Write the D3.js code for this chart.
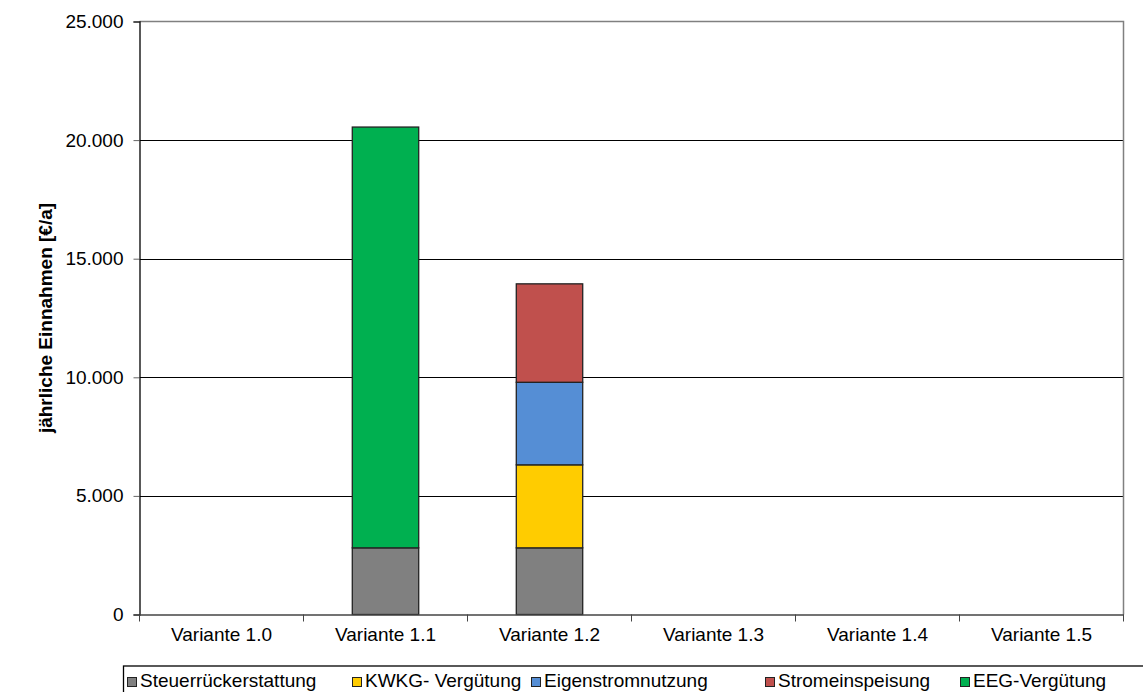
<!DOCTYPE html>
<html>
<head>
<meta charset="utf-8">
<script src="https://cdn.jsdelivr.net/npm/d3@7/dist/d3.min.js"></script>
<style>
  body { margin: 0; background: #fff; }
  svg text { font-family: "Liberation Sans", Arial, sans-serif; fill: #000; }
</style>
</head>
<body>
<svg id="chart" width="1143" height="692"></svg>
<script>
// values
var categories = ["Variante 1.0", "Variante 1.1", "Variante 1.2", "Variante 1.3", "Variante 1.4", "Variante 1.5"]
var seriesNames = ["Steuerrückerstattung", "KWKG- Vergütung", "Eigenstromnutzung", "Stromeinspeisung", "EEG-Vergütung"]
var steuer = [0, 2810, 2810, 0, 0, 0]
var kwkg   = [0, 0, 3500, 0, 0, 0]
var eigen  = [0, 0, 3480, 0, 0, 0]
var strom  = [0, 0, 4150, 0, 0, 0]
var eeg    = [0, 17740, 0, 0, 0, 0]
var yTicks = [0, 5000, 10000, 15000, 20000, 25000]
var colors = ["#808080", "#FFCC00", "#558ED5", "#C0504D", "#00B050"]
var legendX = [127, 352, 531, 765, 960]

var seriesValues = [steuer, kwkg, eigen, strom, eeg]

function draw()
{
    var svg = d3.select("#chart")
    var mLeft = 139.5, mRight = 1123.5, mTop = 21.5, mBottom = 614.5
    var fs = "19px"

    var x = d3.scaleBand().domain(categories).range([mLeft, mRight]).paddingInner(0).paddingOuter(0)
    var y = d3.scaleLinear().domain([0, 25000]).range([mBottom, mTop])

    // rows for stacking
    var rows = categories.map(function(c, i){
        var r = {cat: c}
        seriesNames.forEach(function(s, k){ r[s] = seriesValues[k][i] })
        return r
    })
    var stack = d3.stack().keys(seriesNames)(rows)

    // grid lines
    svg.append("g")
        .selectAll("line")
        .data(yTicks.slice(1, -1))
        .enter()
            .append("line")
            .attr("x1", mLeft).attr("x2", mRight)
            .attr("y1", function(d){ return Math.round(y(d)) + 0.5 })
            .attr("y2", function(d){ return Math.round(y(d)) + 0.5 })
            .attr("stroke", "#000")
            .attr("stroke-width", 1)

    // plot frame (top + right grey)
    svg.append("path")
        .attr("d", "M" + mLeft + "," + mTop + "H" + mRight + "V" + mBottom)
        .attr("fill", "none")
        .attr("stroke", "#808080")
        .attr("stroke-width", 1.5)

    // bars
    var bw = x.bandwidth() * 0.405
    svg.append("g")
        .selectAll("g")
        .data(stack)
        .enter()
            .append("g")
            .attr("fill", function(d, i){ return colors[i] })
            .selectAll("rect")
            .data(function(d){ return d.filter(function(p){ return p[1] - p[0] > 0 }) })
            .enter()
                .append("rect")
                .attr("x", function(d){ return x(d.data.cat) + (x.bandwidth() - bw) / 2 })
                .attr("width", bw)
                .attr("y", function(d){ return y(d[1]) })
                .attr("height", function(d){ return y(d[0]) - y(d[1]) })
                .attr("stroke", "#222")
                .attr("stroke-width", 1.3)

    // y axis
    var yAxis = svg.append("g")
        .attr("transform", "translate(" + mLeft + ",0)")
        .call(d3.axisLeft(y).tickValues(yTicks).tickSize(6).tickPadding(10)
            .tickFormat(function(d){ return d3.format(",")(d).replace(/,/g, ".") }))
    yAxis.select(".domain").attr("stroke", "#000").attr("stroke-width", 1.3)
    yAxis.selectAll(".tick line").attr("stroke", "#666")
    yAxis.selectAll("text").style("font-size", fs)

    // x axis
    var xAxis = svg.append("g")
        .attr("transform", "translate(0," + mBottom + ")")
        .call(d3.axisBottom(x).tickSize(0).tickPadding(13))
    xAxis.select(".domain").attr("stroke", "#444").attr("stroke-width", 1.5)
    xAxis.selectAll("text").style("font-size", fs)
    svg.append("g")
        .selectAll("line")
        .data(d3.range(categories.length + 1))
        .enter()
            .append("line")
            .attr("x1", function(i){ return mLeft + i * x.bandwidth() })
            .attr("x2", function(i){ return mLeft + i * x.bandwidth() })
            .attr("y1", mBottom).attr("y2", mBottom + 7)
            .attr("stroke", "#444")

    // y title
    svg.append("text")
        .attr("transform", "translate(52," + (mTop + mBottom) / 2 + ") rotate(-90)")
        .attr("text-anchor", "middle")
        .style("font-size", fs)
        .style("font-weight", "bold")
        .text("jährliche Einnahmen [€/a]")

    // legend
    svg.append("rect")
        .attr("x", 123.5).attr("y", 666)
        .attr("width", 1100).attr("height", 60)
        .attr("fill", "none").attr("stroke", "#000").attr("stroke-width", 1.3)

    var leg = svg.append("g")
        .selectAll("g")
        .data(seriesNames)
        .enter()
            .append("g")
            .attr("transform", function(d, i){ return "translate(" + legendX[i] + ",0)" })
    leg.append("rect")
        .attr("x", 0.5).attr("y", 677.5)
        .attr("width", 9).attr("height", 9)
        .attr("fill", function(d, i){ return colors[i] })
        .attr("stroke", "#222")
    leg.append("text")
        .attr("x", 13).attr("y", 687)
        .style("font-size", fs)
        .text(function(d){ return d })
}

draw()
</script>
</body>
</html>
